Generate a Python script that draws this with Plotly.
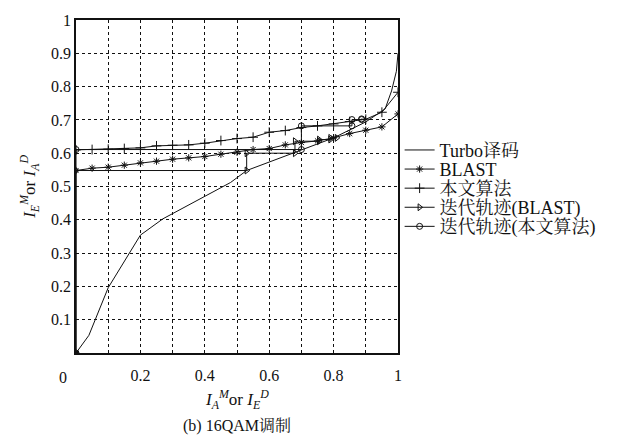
import plotly.graph_objects as go

# ---------------- data ----------------
x_grid05 = [0.00, 0.05, 0.10, 0.15, 0.20, 0.25, 0.30, 0.35, 0.40, 0.45, 0.50,
            0.55, 0.60, 0.65, 0.70, 0.75, 0.80, 0.85, 0.90, 0.95, 1.00]
ours_y = [0.610, 0.611, 0.612, 0.614, 0.616, 0.622, 0.624, 0.625, 0.630, 0.638, 0.644,
          0.648, 0.663, 0.668, 0.677, 0.682, 0.688, 0.695, 0.702, 0.723, 0.783]
blast_y = [0.548, 0.555, 0.558, 0.564, 0.571, 0.576, 0.582, 0.586, 0.590, 0.597, 0.603,
           0.611, 0.614, 0.625, 0.632, 0.637, 0.646, 0.659, 0.669, 0.679, 0.718]

turbo_x = [0.0, 0.04, 0.10, 0.20, 0.27, 0.40, 0.48, 0.53, 0.60, 0.70, 0.80, 0.90, 0.96, 0.98, 0.995, 1.0]
turbo_y = [0.0, 0.053, 0.196, 0.354, 0.403, 0.472, 0.512, 0.548, 0.573, 0.610, 0.646, 0.694, 0.733, 0.787, 0.846, 0.90]

traj_blast_x = [0, 0, 0.53, 0.53, 0.68, 0.68, 0.755, 0.755, 0.79, 0.79, 0.81]
traj_blast_y = [0, 0.548, 0.548, 0.600, 0.600, 0.636, 0.636, 0.641, 0.641, 0.646, 0.646]

traj_ours_x = [0, 0, 0.70, 0.70, 0.857, 0.857, 0.887, 0.887]
traj_ours_y = [0, 0.611, 0.611, 0.682, 0.682, 0.701, 0.701, 0.703]

x_ticks = [0.2, 0.4, 0.6, 0.8, 1.0]
x_tick_text = ["0.2", "0.4", "0.6", "0.8", "1"]
y_ticks = [0.1, 0.2, 0.3, 0.4, 0.5, 0.6, 0.7, 0.8, 0.9, 1.0]
y_tick_text = ["0.1", "0.2", "0.3", "0.4", "0.5", "0.6", "0.7", "0.8", "0.9", "1"]

names = ["Turbo译码", "BLAST", "本文算法", "迭代轨迹(BLAST)", "迭代轨迹(本文算法)"]

FONT = "Liberation Serif, Noto Serif CJK SC, Noto Sans CJK SC, serif"
black = "#111111"
LW = 1.0

fig = go.Figure()
fig.add_trace(go.Scatter(x=turbo_x, y=turbo_y, mode="lines", name=names[0], legend="legend",
                         line=dict(color=black, width=LW)))
fig.add_trace(go.Scatter(x=x_grid05, y=blast_y, mode="lines+markers", name=names[1], legend="legend2",
                         line=dict(color=black, width=LW),
                         marker=dict(symbol="asterisk-open", size=6, color=black,
                                     line=dict(color=black, width=1))))
fig.add_trace(go.Scatter(x=x_grid05, y=ours_y, mode="lines+markers", name=names[2], legend="legend3",
                         line=dict(color=black, width=LW),
                         marker=dict(symbol="cross-thin-open", size=7, color=black,
                                     line=dict(color=black, width=1))))
fig.add_trace(go.Scatter(x=traj_blast_x, y=traj_blast_y, mode="lines+markers", name=names[3], legend="legend4",
                         line=dict(color=black, width=LW),
                         marker=dict(symbol="triangle-right-open", size=6, color=black,
                                     line=dict(color=black, width=1))))
fig.add_trace(go.Scatter(x=traj_ours_x, y=traj_ours_y, mode="lines+markers", name=names[4], legend="legend5",
                         line=dict(color=black, width=LW),
                         marker=dict(symbol="circle-open", size=6, color=black,
                                     line=dict(color=black, width=1))))

axis_common = dict(showline=True, linecolor=black, linewidth=1.5, mirror=True,
                   showgrid=True, gridcolor=black, gridwidth=1, griddash="dot",
                   zeroline=False, ticks="", tickfont=dict(family=FONT, size=16, color=black))

fig.update_xaxes(range=[0, 1], tickvals=[0.1 * i for i in range(1, 10)],
                 showticklabels=False, **axis_common)
fig.update_yaxes(range=[0, 1], tickvals=y_ticks, ticktext=y_tick_text, **axis_common)

fig.update_layout(
    xaxis2=dict(overlaying="x", range=[0, 1], tickvals=x_ticks, ticktext=x_tick_text,
                side="bottom", showgrid=False, showline=False, zeroline=False,
                tickfont=dict(family=FONT, size=16, color=black), ticks="",
                ticklabelstandoff=11, anchor="y"),
)
fig.add_trace(go.Scatter(x=[0], y=[0], xaxis="x2", mode="markers", showlegend=False,
                         marker=dict(size=4, color=black, symbol="square")))

fig.add_annotation(x=-0.04, y=-0.005, xref="paper", yref="paper", text="0",
                   showarrow=False, xanchor="center", yanchor="top",
                   font=dict(family=FONT, size=16, color=black), yshift=-12)
fig.add_annotation(x=0.5, y=-0.095, xref="paper", yref="paper",
                   text="<i>I</i><sub><i>A</i></sub><sup><i>M</i></sup>or <i>I</i><sub><i>E</i></sub><sup><i>D</i></sup>",
                   showarrow=False, xanchor="center", yanchor="top",
                   font=dict(family=FONT, size=17, color=black))
fig.add_annotation(x=0.5, y=-0.185, xref="paper", yref="paper",
                   text="(b) 16QAM调制",
                   showarrow=False, xanchor="center", yanchor="top",
                   font=dict(family=FONT, size=16, color=black))
fig.add_annotation(x=-0.145, y=0.5, xref="paper", yref="paper",
                   text="<i>I</i><sub><i>E</i></sub><sup><i>M</i></sup>or <i>I</i><sub><i>A</i></sub><sup><i>D</i></sup>",
                   showarrow=False, xanchor="center", yanchor="middle", textangle=-90,
                   font=dict(family=FONT, size=17, color=black))

# legend rows (pixel centres) converted to paper coordinates
row_px = [146, 165.5, 185, 204.5, 224]
leg_common = dict(x=1.005, xanchor="left", yanchor="middle", bgcolor="rgba(0,0,0,0)",
                  font=dict(family=FONT, size=18, color=black), itemwidth=30)
legends = {}
for i, py in enumerate(row_px):
    key = "legend" if i == 0 else f"legend{i + 1}"
    legends[key] = dict(y=(353 - py) / 340.0, **leg_common)

fig.update_layout(
    width=625, height=441,
    margin=dict(l=76, r=227, t=13, b=88),
    paper_bgcolor="white", plot_bgcolor="white",
    font=dict(family=FONT, size=16, color=black),
    **legends,
)

fig.write_html("out.html")
